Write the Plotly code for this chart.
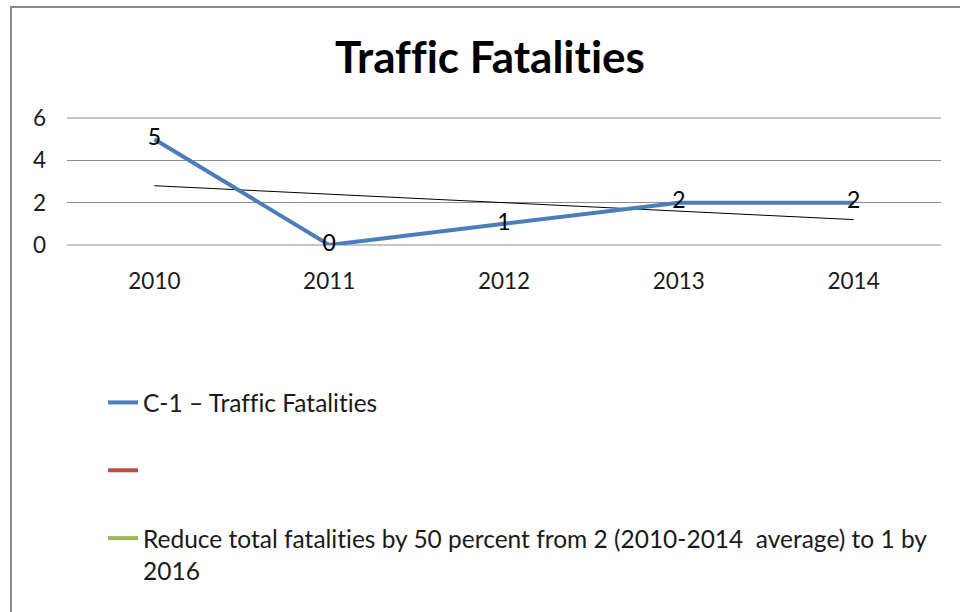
import plotly.graph_objects as go

years = ["2010", "2011", "2012", "2013", "2014"]
fatalities = [5, 0, 1, 2, 2]
trend = [2.8, 2.4, 2.0, 1.6, 1.2]
y_ticks = [0, 2, 4, 6]

ZW = "\u200c"  # zero-width non-joiner: keeps the font from forming ligatures
traffic = "Traf" + ZW + "f" + ZW + "ic"
fatalities_word = "Fat" + ZW + "alit" + ZW + "ies"
name_main = "C-1 – " + traffic + " " + fatalities_word
name_red = " "
name_green = ("Reduce tot" + ZW + "al f" + ZW + "at" + ZW + "alit" + ZW + "ies by 50 percent from 2 "
              "(2010-2014  average) to 1 by<br>2016")
title_text = traffic + " " + fatalities_word

FONT = "Lato"

fig = go.Figure()
fig.add_trace(go.Scatter(
    x=years, y=trend, mode="lines", showlegend=False,
    line=dict(color="#000000", width=1), hoverinfo="skip",
))
fig.add_trace(go.Scatter(
    x=years, y=fatalities, mode="lines+text", name=name_main,
    text=[str(v) for v in fatalities], textposition="middle center",
    textfont=dict(family=FONT, size=23, color="#000000"),
    line=dict(color="#4A7EBB", width=4), legendgroup="a", cliponaxis=False,
))
fig.add_trace(go.Scatter(
    x=[None], y=[None], mode="lines", name=name_red,
    line=dict(color="#BE4B48", width=4), legendgroup="b",
))
fig.add_trace(go.Scatter(
    x=[None], y=[None], mode="lines", name=name_green,
    line=dict(color="#98B954", width=4), legendgroup="c",
))

L, R, T, B = 67, 19, 118, 367
pw = 960 - L - R
ph = 612 - T - B

def px_x(p):
    return (p - L) / pw

def px_y(p):
    return (612 - B - p) / ph

fig.update_layout(
    width=960, height=612,
    margin=dict(l=L, r=R, t=T, b=B),
    paper_bgcolor="white", plot_bgcolor="white",
    title=dict(text="<b>" + title_text + "</b>", x=px_x(490), xanchor="center",
               xref="paper", y=1 - 58 / 612, yanchor="middle",
               font=dict(family=FONT, size=44, color="#000000")),
    font=dict(family=FONT, size=20, color="#000000"),
    showlegend=True,
    legend=dict(
        x=px_x(103), xanchor="left", y=px_y(380), yanchor="top",
        orientation="v", tracegroupgap=33, valign="top",
        font=dict(family=FONT, size=24.5, color="#1a1a1a"),
        bgcolor="rgba(0,0,0,0)", itemwidth=30, traceorder="grouped",
    ),
    xaxis=dict(
        type="category", categoryorder="array", categoryarray=years,
        range=[-0.5, 4.5], showgrid=False, showline=False, zeroline=False,
        ticks="", ticklabelstandoff=20,
        tickfont=dict(family=FONT, size=22.5, color="#1a1a1a"),
    ),
    yaxis=dict(
        range=[0, 6], tickvals=y_ticks, ticktext=[str(v) for v in y_ticks],
        showgrid=True, gridcolor="#8c8c8c", gridwidth=1,
        showline=False, zeroline=False, ticks="", ticklabelstandoff=20,
        tickfont=dict(family=FONT, size=22.5, color="#1a1a1a"),
    ),
    shapes=[
        dict(type="line", xref="paper", yref="paper",
             x0=0, x1=1, y0=0, y1=0, line=dict(color="#8c8c8c", width=1), layer="below"),
        dict(type="line", xref="paper", yref="paper",
             x0=0, x1=1, y0=1, y1=1, line=dict(color="#8c8c8c", width=1), layer="below"),
        dict(type="rect", xref="paper", yref="paper",
             x0=px_x(11), x1=px_x(975), y0=px_y(7), y1=px_y(630),
             line=dict(color="#888888", width=2), fillcolor="rgba(0,0,0,0)"),
    ],
)

fig.write_html("out.html", config={"displayModeBar": False},
               post_script="document.body.style.margin='0';")
